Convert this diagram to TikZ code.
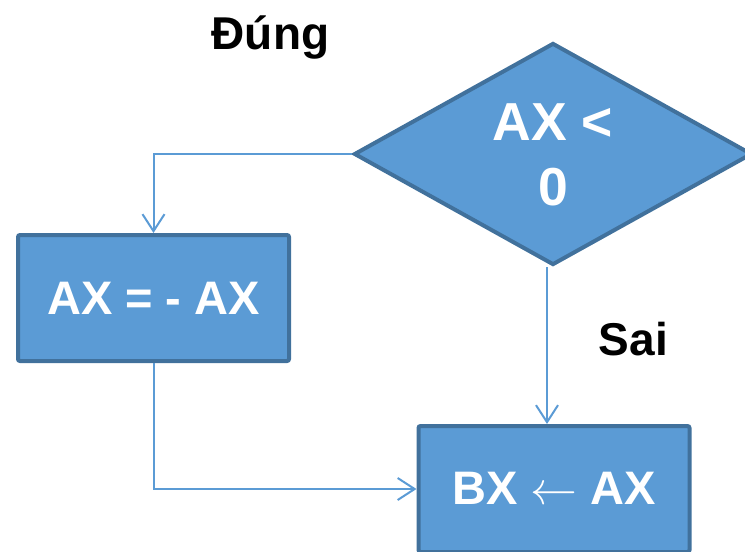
\documentclass[tikz,border=0pt]{standalone}
\usepackage{fontspec}
\usepackage{unicode-math}
\setmainfont{Liberation Sans}
\setmathfont{Latin Modern Math}
\usetikzlibrary{shapes.geometric,arrows.meta}
\definecolor{boxfill}{HTML}{5B9BD5}
\definecolor{boxedge}{HTML}{41719C}
\definecolor{linkcol}{HTML}{5B9BD5}
\tikzset{
  procbox/.style={rectangle, draw=boxedge, fill=boxfill, line width=4pt,
    rounded corners=2pt, minimum width=271pt, minimum height=126pt,
    inner sep=0pt, text=white, font=\bfseries\fontsize{47}{54}\selectfont},
  decbox/.style={diamond, draw=boxedge, fill=boxfill, line width=4pt,
    minimum width=398pt, minimum height=222pt, inner sep=0pt},
  dectext/.style={text=white, align=center, inner sep=0pt,
    font=\bfseries\fontsize{53.5}{65}\selectfont},
  branch/.style={text=black, inner sep=0pt, anchor=base,
    font=\bfseries\fontsize{46}{54}\selectfont},
  link/.style={draw=linkcol, line width=2pt,
    -{Straight Barb[length=17pt,width=22pt,line width=2pt]}}
}
\begin{document}
\begin{tikzpicture}[x=1pt,y=-1pt]
  \useasboundingbox (0,0) rectangle (745,552);
  % decision
  \node[decbox] (dec) at (553,154) {};
  \node[dectext] (dect) at (553,155) {AX <\\0};
  % processing steps
  \node[procbox] (neg) at (153.5,298) {AX = - AX};
  \node[procbox] (copy) at (554,489) {BX $\leftarrow$ AX};
  % branch labels
  \node[branch] (yes) at (270.5,49.3) {Đúng};
  \node[branch] (no) at (633.5,355) {Sai};
  % connectors
  \coordinate (decout) at ([xshift=-6pt]dec.south);
  \draw[link] (dec.west) -| (neg.north);
  \draw[link] (decout) -- (decout |- copy.north);
  \draw[link] (neg.south) |- (copy.west);
\end{tikzpicture}
\end{document}
